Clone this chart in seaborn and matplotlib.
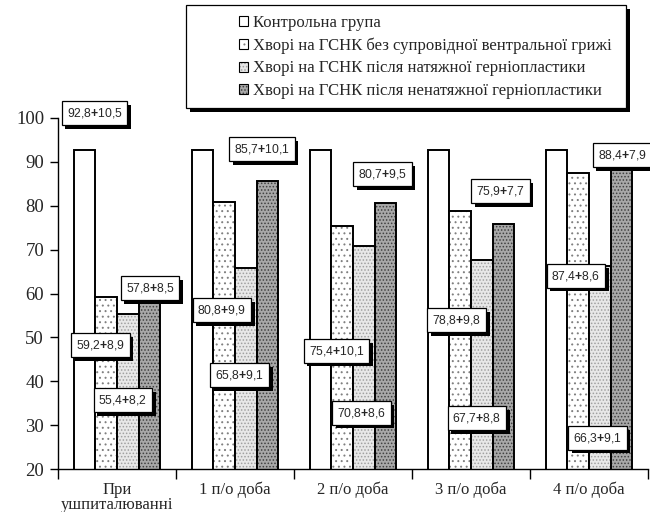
import matplotlib
matplotlib.use("Agg")
import matplotlib.pyplot as plt
import matplotlib.patheffects as pe
from matplotlib.colors import to_rgba
from matplotlib.patches import Patch, Rectangle
import seaborn as sns
import pandas as pd

# ---------------- data ----------------
categories = ["При\nушпиталюванні", "1 п/о доба", "2 п/о доба", "3 п/о доба", "4 п/о доба"]
series_names = [
    "Контрольна група",
    "Хворі на ГСНК без супровідної вентральної грижі",
    "Хворі на ГСНК після натяжної герніопластики",
    "Хворі на ГСНК після ненатяжної герніопластики",
]
control = [92.8, 92.8, 92.8, 92.8, 92.8]
control_sd = [10.5, 10.5, 10.5, 10.5, 10.5]
no_hernia = [59.2, 80.8, 75.4, 78.8, 87.4]
no_hernia_sd = [8.9, 9.9, 10.1, 9.8, 8.6]
tension = [55.4, 65.8, 70.8, 67.7, 66.3]
tension_sd = [8.2, 9.1, 8.6, 8.8, 9.1]
tension_free = [57.8, 85.7, 80.7, 75.9, 88.4]
tension_free_sd = [8.5, 10.1, 9.5, 7.7, 7.9]
y_ticks = [20, 30, 40, 50, 60, 70, 80, 90, 100]

values = [control, no_hernia, tension, tension_free]
sds = [control_sd, no_hernia_sd, tension_sd, tension_free_sd]

# ---------------- layout / style ----------------
# label box placement (offset from group centre, y in data units); None = no label
label_pos = [
    [(-0.19, 101.1), None, None, None, None],
    [(-0.14, 48.2), (-0.11, 56.2), (-0.14, 46.9), (-0.12, 53.9), (-0.11, 64.0)],
    [(0.05, 35.7), (0.04, 41.4), (0.07, 32.8), (0.05, 31.6), (0.07, 27.1)],
    [(0.28, 61.2), (0.23, 92.9), (0.25, 87.2), (0.25, 83.3), (0.28, 91.5)],
]
face_colors = ["#ffffff", "#ffffff", "#e8e8e8", "#a8a8a8"]
hatches = [None, "...", ".....", "....."]
hatch_colors = ["#000000", "#808080", "#a0a0a0", "#404040"]

sns.set_theme(style="white")
plt.rcParams["font.family"] = ["Liberation Serif", "DejaVu Serif"]
plt.rcParams["mathtext.fontset"] = "custom"
plt.rcParams["mathtext.rm"] = "Liberation Sans"
plt.rcParams["mathtext.bf"] = "Liberation Sans:bold"
plt.rcParams["hatch.linewidth"] = 0.7

rows = []
for name, vals in zip(series_names, values):
    for cat, v in zip(categories, vals):
        rows.append({"period": cat, "group": name, "value": v})
df = pd.DataFrame(rows)

fig = plt.figure(figsize=(6.5, 5.12), dpi=100)
ax = fig.add_axes([58 / 650, 43 / 512, 590 / 650, 351 / 512])

sns.barplot(data=df, x="period", y="value", hue="group", order=categories,
            hue_order=series_names, palette=face_colors, saturation=1,
            width=0.73, edgecolor="black", linewidth=1.4, ax=ax, legend=False)


def style_patch(p, h, hc):
    if h:
        p.set_hatch(h)
        try:
            p.set_hatchcolor(hc)
        except AttributeError:
            p._hatch_color = to_rgba(hc)


for cont, h, hc in zip(ax.containers, hatches, hatch_colors):
    for bar in cont:
        style_patch(bar, h, hc)

ax.set_ylim(20, 100)
ax.set_xlim(-0.5, 4.5)
ax.set_yticks(y_ticks)
ax.set_yticklabels([str(t) for t in y_ticks], fontsize=13.5)
ax.set_xticks([i - 0.5 for i in range(len(categories) + 1)])
ax.set_xticklabels([])
ax.set_xticks(range(len(categories)), minor=True)
ax.set_xticklabels(categories, minor=True, fontsize=12, linespacing=0.92)
ax.tick_params(axis="x", which="major", direction="out", length=7, width=1, color="black", bottom=True)
ax.tick_params(axis="x", which="minor", length=0, pad=9)
ax.tick_params(axis="y", direction="out", length=6, width=1, color="black", left=True, pad=4)
ax.set_xlabel("")
ax.set_ylabel("")
for s in ["top", "right"]:
    ax.spines[s].set_visible(False)
for s in ["left", "bottom"]:
    ax.spines[s].set_color("black")
    ax.spines[s].set_linewidth(1)


def fmt(v):
    return f"{v:.1f}".replace(".", ",")


shadow = [pe.SimplePatchShadow(offset=(2.6, -2.6), shadow_rgbFace="black", alpha=1), pe.Normal()]
for si in range(4):
    for gi in range(len(categories)):
        pos = label_pos[si][gi]
        if pos is None:
            continue
        dx, yy = pos
        txt = fmt(values[si][gi]) + r"$\mathbf{+}$" + fmt(sds[si][gi])
        t = ax.text(gi + dx, yy, txt, ha="center", va="center", fontsize=8.7,
                    family="Liberation Sans", zorder=5,
                    bbox=dict(boxstyle="square,pad=0.4", facecolor="white",
                              edgecolor="black", linewidth=0.9))
        t.get_bbox_patch().set_path_effects(shadow)

# legend box
rect = Rectangle((186 / 650, 1 - 108 / 512), 440 / 650, 103 / 512, transform=fig.transFigure,
                 facecolor="white", edgecolor="black", linewidth=0.9, zorder=1)
rect.set_path_effects([pe.SimplePatchShadow(offset=(3, -3), shadow_rgbFace="black", alpha=1), pe.Normal()])
fig.patches.append(rect)

handles = []
for c, h, hc in zip(face_colors, hatches, hatch_colors):
    hp = Patch(facecolor=c, edgecolor="black", linewidth=0.8)
    style_patch(hp, h, hc)
    handles.append(hp)
leg = fig.legend(handles, series_names, loc="upper left", bbox_to_anchor=(239 / 650, 1 - 15 / 512),
                 frameon=False, fontsize=12, handlelength=0.55, handleheight=0.55,
                 handletextpad=0.3, labelspacing=0.39, borderpad=0, borderaxespad=0)
for lh, h, hc in zip(leg.legend_handles, hatches, hatch_colors):
    style_patch(lh, h, hc)
leg.set_zorder(3)

fig.savefig("out.png", dpi=100)
